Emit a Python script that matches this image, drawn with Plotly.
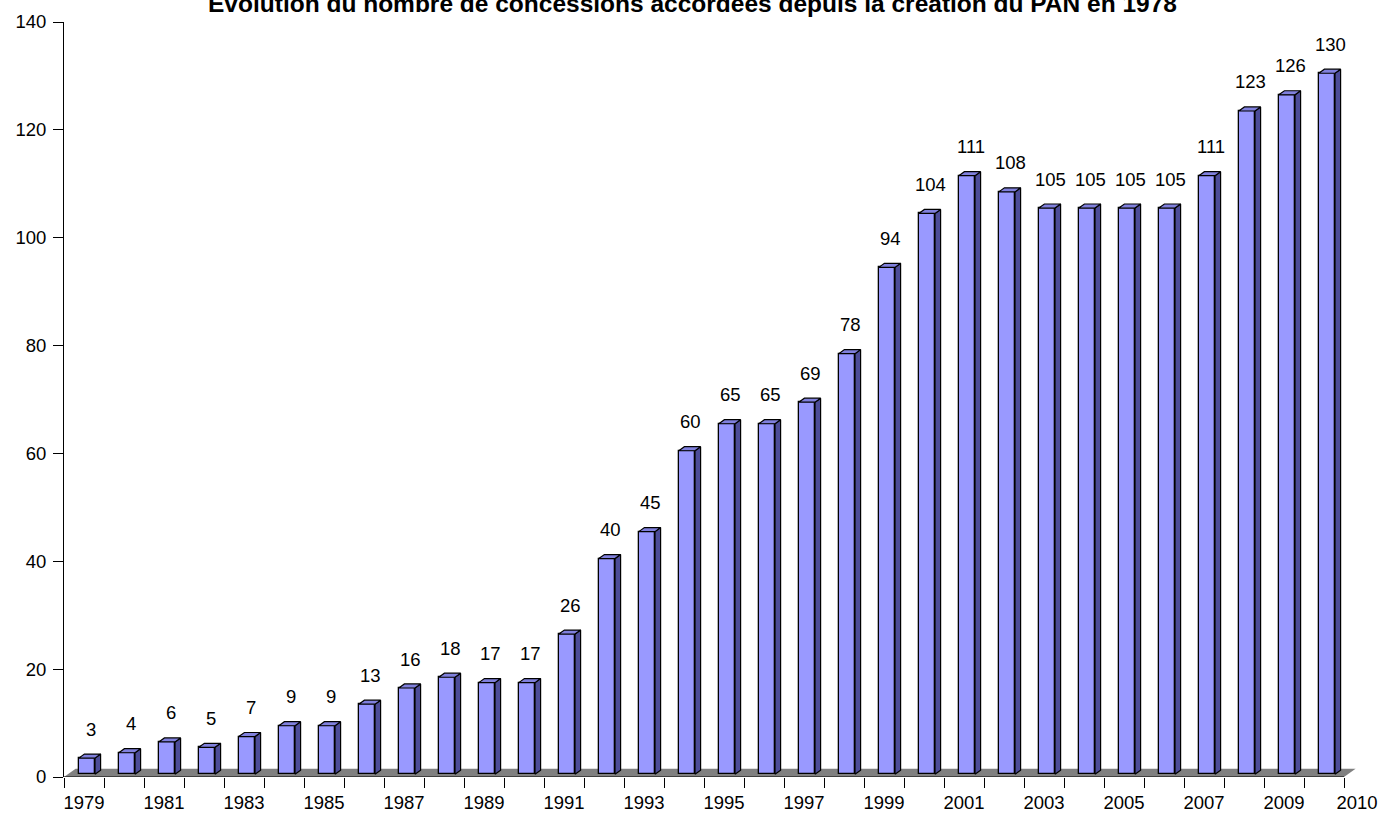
import plotly.graph_objects as go

years = [1979, 1980, 1981, 1982, 1983, 1984, 1985, 1986, 1987, 1988, 1989,
         1990, 1991, 1992, 1993, 1994, 1995, 1996, 1997, 1998, 1999, 2000,
         2001, 2002, 2003, 2004, 2005, 2006, 2007, 2008, 2009, 2010]
concessions = [3, 4, 6, 5, 7, 9, 9, 13, 16, 18, 17, 17, 26, 40, 45, 60, 65, 65,
               69, 78, 94, 104, 111, 108, 105, 105, 105, 105, 111, 123, 126, 130]
tick_years = [1979, 1981, 1983, 1985, 1987, 1989, 1991, 1993, 1995, 1997,
              1999, 2001, 2003, 2005, 2007, 2009, 2010]

TITLE = "Evolution du nombre de concessions accordées depuis la création du PAN en 1978"
FONT = "Liberation Sans, Arial, sans-serif"

FRONT = "#9999ff"
SIDE = "#4c4c99"
TOP = "#8080dd"
FLOOR = "#808080"

# pseudo-3D geometry, in axis units
BAR_OFF, BAR_W = -0.13, 0.405
DX, DY = 0.14, 0.75
BASE = 0.5
FLOOR_DX, FLOOR_DY = 0.29, 1.55

n = len(years)
x = list(range(n))

fig = go.Figure()

# front faces
fig.add_trace(
    go.Bar(
        x=x,
        y=concessions,
        base=BASE,
        offset=BAR_OFF,
        width=BAR_W,
        marker=dict(color=FRONT, line=dict(color="black", width=1.3)),
        hoverinfo="skip",
        showlegend=False,
    )
)

# side and top faces
sx, sy, tx, ty = [], [], [], []
for i, v in zip(x, concessions):
    xl = i + BAR_OFF
    xr = xl + BAR_W
    top = v + BASE
    sx += [xr, xr + DX, xr + DX, xr, xr, None]
    sy += [BASE, BASE + DY, top + DY, top, BASE, None]
    tx += [xl, xl + DX, xr + DX, xr, xl, None]
    ty += [top, top + DY, top + DY, top, top, None]

fig.add_trace(
    go.Scatter(
        x=sx, y=sy, mode="lines", fill="toself", fillcolor=SIDE,
        line=dict(color="black", width=1.2), hoverinfo="skip", showlegend=False,
    )
)
fig.add_trace(
    go.Scatter(
        x=tx, y=ty, mode="lines", fill="toself", fillcolor=TOP,
        line=dict(color="black", width=1.2), hoverinfo="skip", showlegend=False,
    )
)

# floor
x0, x1 = -0.5, n - 0.5
fig.add_shape(
    type="path",
    path=f"M {x0},0 L {x1},0 L {x1 + FLOOR_DX},{FLOOR_DY} L {x0 + FLOOR_DX},{FLOOR_DY} Z",
    xref="x", yref="y", fillcolor=FLOOR, line=dict(width=0), layer="below",
)
# x axis base line
fig.add_shape(
    type="line", x0=x0, x1=x1, y0=0, y1=0, xref="x", yref="y",
    line=dict(color="black", width=1), layer="above",
)

# data labels
for i, v in zip(x, concessions):
    fig.add_annotation(
        x=i + 0.17, y=v + BASE, text=str(v), showarrow=False, yshift=29,
        font=dict(family=FONT, size=18.5, color="black"),
    )

tick_pos = []
for yr in tick_years:
    idx = years.index(yr)
    tick_pos.append(idx + 0.825 if yr == years[-1] else idx)

fig.update_layout(
    width=1385,
    height=814,
    margin=dict(l=64, r=21, t=22, b=37, autoexpand=False),
    paper_bgcolor="white",
    plot_bgcolor="white",
    font=dict(family=FONT, size=18.5, color="black"),
    title=dict(
        text=f"<b>{TITLE}</b>",
        x=0.5, xref="container", xanchor="center",
        y=0.996, yref="container", yanchor="middle",
        font=dict(family=FONT, size=24.5, color="black"),
    ),
    showlegend=False,
    bargap=0,
)
fig.update_xaxes(
    range=[-0.5, 32.0],
    automargin=False,
    tickmode="array",
    tickvals=tick_pos,
    ticktext=[str(t) for t in tick_years],
    ticks="",
    ticklabelstandoff=12,
    showline=False,
    showgrid=False,
    zeroline=False,
    minor=dict(
        tickmode="array",
        tickvals=[b - 0.5 for b in range(n + 1)],
        ticks="outside", ticklen=10, tickcolor="black", tickwidth=1,
        showgrid=False,
    ),
)
fig.update_yaxes(
    range=[0, 140],
    automargin=False,
    dtick=20,
    ticks="outside",
    ticklen=10,
    tickcolor="black",
    ticklabelstandoff=3,
    showline=True,
    linecolor="black",
    linewidth=1,
    showgrid=False,
    zeroline=False,
)

fig.write_html(
    "out.html",
    config={"displayModeBar": False},
    post_script="document.body.style.margin='0';",
)
